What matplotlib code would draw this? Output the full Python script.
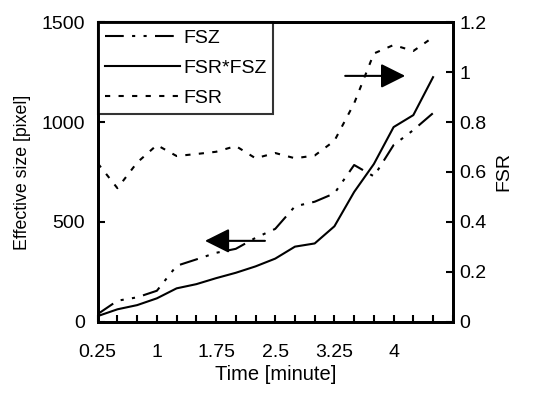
import matplotlib
matplotlib.use("Agg")
import matplotlib.pyplot as plt

plt.rcParams['font.family'] = ['Liberation Sans', 'DejaVu Sans']

time = [0.25, 0.5, 0.75, 1.0, 1.25, 1.5, 1.75, 2.0, 2.25, 2.5,
        2.75, 3.0, 3.25, 3.5, 3.75, 4.0, 4.25, 4.5]
fsz = [38, 105, 122, 155, 280, 312, 345, 365, 420, 465,
       578, 601, 643, 785, 728, 885, 960, 1045]
fsr_fsz = [28, 62, 83, 117, 167, 188, 218, 245, 277, 316,
           376, 392, 478, 650, 790, 975, 1035, 1225]
fsr = [0.635, 0.535, 0.638, 0.708, 0.664, 0.672, 0.681, 0.704, 0.655, 0.676,
       0.655, 0.666, 0.725, 0.875, 1.075, 1.109, 1.085, 1.14]
xtick_labels = ['0.25', '1', '1.75', '2.5', '3.25', '4']
xtick_pos = [0.25, 1.0, 1.75, 2.5, 3.25, 4.0]
minor_pos = [0.25, 0.5, 0.75, 1.0, 1.25, 1.5, 1.75, 2.0, 2.25, 2.5, 2.75,
             3.0, 3.25, 3.5, 3.75, 4.0, 4.25, 4.5, 4.75]

FS = 14
fig = plt.figure(figsize=(5.38, 4.01), dpi=100)
ax = fig.add_axes([0.1816, 0.1978, 0.66, 0.7466])
ax2 = ax.twinx()

l1, = ax.plot(time, fsz, color='black', lw=1.5, dashes=(9, 4, 1.5, 4, 1.5, 4),
              label='FSZ')
l2, = ax.plot(time, fsr_fsz, color='black', lw=1.5, label='FSR*FSZ')
l3, = ax2.plot(time, fsr, color='black', lw=1.5, dashes=(2.5, 4), label='FSR')

ax.set_xlim(0.25, 4.75)
ax.set_ylim(0, 1500)
ax2.set_ylim(0, 1.2)
ax.set_yticks([0, 500, 1000, 1500])
ax2.set_yticks([0, 0.2, 0.4, 0.6, 0.8, 1.0, 1.2])
ax2.set_yticklabels(['0', '0.2', '0.4', '0.6', '0.8', '1', '1.2'])
ax.set_xticks(minor_pos, minor=True)
ax.set_xticks(xtick_pos)
ax.set_xticklabels(xtick_labels)

ax.tick_params(axis='x', which='both', direction='in', length=5, width=1.5,
               labelsize=FS, pad=16)
ax.tick_params(axis='y', direction='in', length=5, width=1.5, labelsize=FS, pad=9)
ax2.tick_params(axis='y', direction='in', length=5, width=1.5, labelsize=FS, pad=5)
for a in (ax, ax2):
    for s in a.spines.values():
        s.set_linewidth(2)

ax.set_xlabel('Time [minute]', fontsize=14.5, labelpad=3)
ax.set_ylabel('Effective size [pixel]', fontsize=12.8, labelpad=8)
ax2.set_ylabel('FSR', fontsize=FS, labelpad=6)

leg = ax.legend(handles=[l1, l2, l3], loc='upper left', fontsize=FS,
                frameon=True, fancybox=False, borderaxespad=0,
                handlelength=3.9, handletextpad=0.15, labelspacing=0.65,
                borderpad=0.35)
leg.get_frame().set_edgecolor('black')
leg.get_frame().set_linewidth(1.5)
leg.set_zorder(5)

ax.annotate('', xy=(0.302, 0.27), xytext=(0.471, 0.27), xycoords='axes fraction',
            arrowprops=dict(arrowstyle='-|>,head_length=1.0,head_width=0.5',
                            color='black', lw=1.5, mutation_scale=15,
                            shrinkA=0, shrinkB=0))
ax.annotate('', xy=(0.866, 0.821), xytext=(0.697, 0.821), xycoords='axes fraction',
            arrowprops=dict(arrowstyle='-|>,head_length=1.0,head_width=0.5',
                            color='black', lw=1.5, mutation_scale=15,
                            shrinkA=0, shrinkB=0))

fig.savefig('out.png', dpi=100)
